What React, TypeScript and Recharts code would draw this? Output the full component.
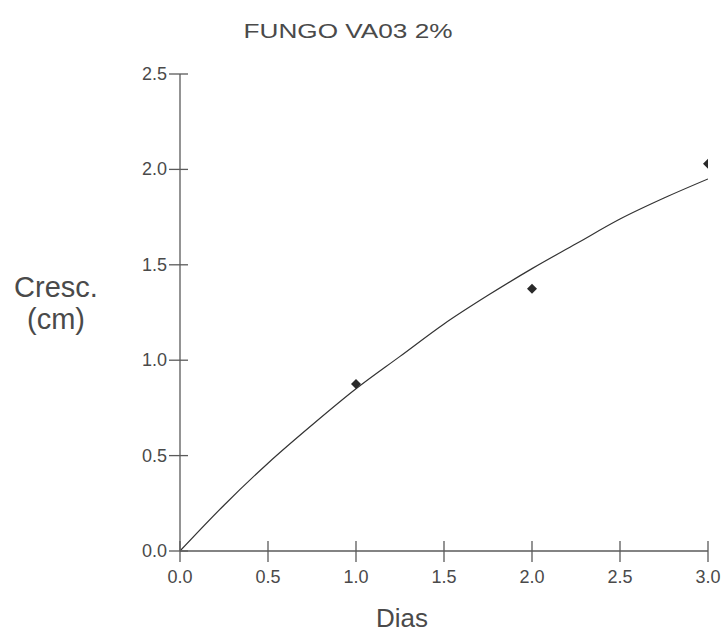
import { ComposedChart, Line, Scatter, XAxis, YAxis } from 'recharts'

// observed growth (cm) per day
const obsDays = [1, 2, 3]
const obsGrowth = [0.875, 1.375, 2.03]

// fitted curve
const fitDays = [0, 0.25, 0.5, 0.75, 1, 1.25, 1.5, 1.75, 2, 2.25, 2.5, 2.75, 3]
const fitGrowth = [0, 0.24, 0.46, 0.66, 0.85, 1.02, 1.19, 1.34, 1.48, 1.61, 1.74, 1.85, 1.95]

const xTicks = [0, 0.5, 1, 1.5, 2, 2.5, 3]
const yTicks = [0, 0.5, 1, 1.5, 2, 2.5]

const obsData = obsDays.map((d, i) => ({ x: d, y: obsGrowth[i] }))
const fitData = fitDays.map((d, i) => ({ x: d, fit: fitGrowth[i] }))

const FONT = 'Arial, "Liberation Sans", sans-serif'
const TEXT = '#4a4a4a'
const AXIS = '#5a5a5a'

function YTick({ x, y, payload }: any) {
  return (
    <g>
      <line x1={x - 11} x2={x + 8} y1={y} y2={y} stroke={AXIS} strokeWidth={1.3} />
      <text x={x - 13} y={y} textAnchor="end" dominantBaseline="central" fontSize={18} fill={TEXT} fontFamily={FONT}>
        {Number(payload.value).toFixed(1)}
      </text>
    </g>
  )
}

function XTick({ x, y, payload }: any) {
  return (
    <g>
      <line x1={x} x2={x} y1={y - 10} y2={y + 11} stroke={AXIS} strokeWidth={1.3} />
      <text x={x} y={y + 26} textAnchor="middle" dominantBaseline="central" fontSize={18} fill={TEXT} fontFamily={FONT}>
        {Number(payload.value).toFixed(1)}
      </text>
    </g>
  )
}

function Dot({ cx, cy }: any) {
  const r = 5
  return <polygon points={`${cx},${cy - r} ${cx + r},${cy} ${cx},${cy + r} ${cx - r},${cy}`} fill="#2a2a2a" />
}

export default function App() {
  return (
    <div style={{ position: 'absolute', left: 0, top: 0, width: 721, height: 636, background: '#fff' }}>
      <ComposedChart width={721} height={636} margin={{ top: 74, right: 13, left: 0, bottom: 0 }}>
        <XAxis
          dataKey="x"
          type="number"
          domain={[0, 3]}
          ticks={xTicks}
          height={85}
          tickSize={0}
          tickMargin={0}
          tickLine={false}
          tick={<XTick />}
          stroke={AXIS}
          strokeWidth={1.3}
          allowDataOverflow
        />
        <YAxis
          type="number"
          domain={[0, 2.5]}
          ticks={yTicks}
          width={180}
          tickSize={0}
          tickMargin={0}
          tickLine={false}
          tick={<YTick />}
          stroke={AXIS}
          strokeWidth={1.3}
          allowDataOverflow
        />
        <Line data={fitData} dataKey="fit" type="monotone" stroke="#333" strokeWidth={1.2} dot={false} isAnimationActive={false} />
        <Scatter data={obsData} dataKey="y" shape={<Dot />} isAnimationActive={false} />
      </ComposedChart>
      <svg width={721} height={636} style={{ position: 'absolute', left: 0, top: 0, pointerEvents: 'none' }}>
        <text x={348} y={38} textAnchor="middle" fontSize={20} fill={TEXT} fontFamily={FONT} textLength={209} lengthAdjust="spacingAndGlyphs">
          FUNGO VA03 2%
        </text>
        <text x={56} y={297} textAnchor="middle" fontSize={29} fill={TEXT} fontFamily={FONT}>Cresc.</text>
        <text x={56} y={329} textAnchor="middle" fontSize={29} fill={TEXT} fontFamily={FONT}>(cm)</text>
        <text x={402} y={627} textAnchor="middle" fontSize={26} fill={TEXT} fontFamily={FONT}>Dias</text>
      </svg>
    </div>
  )
}
